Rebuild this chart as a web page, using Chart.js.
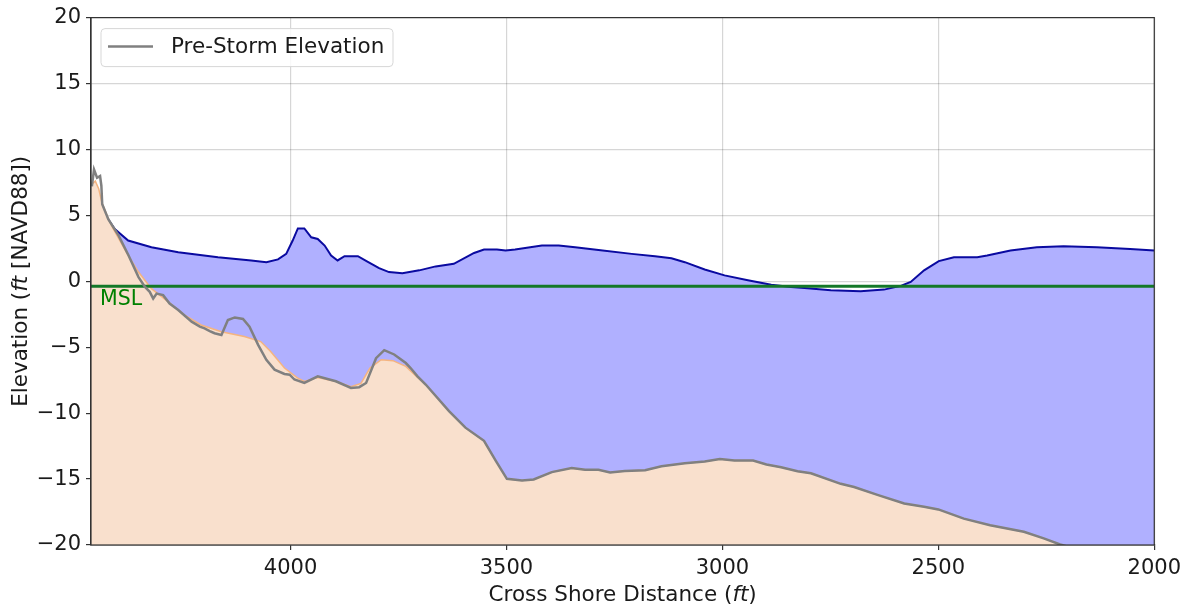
<!DOCTYPE html>
<html>
<head>
<meta charset="utf-8">
<script src="https://cdn.jsdelivr.net/npm/chart.js@4"></script>
<style>
  html, body { margin: 0; padding: 0; background: #ffffff; }
  #wrap { width: 1187px; height: 608px; }
</style>
</head>
<body>
<div id="wrap"><canvas id="c" width="1187" height="608"></canvas></div>
<script>
// ---------- data ----------
const xTicks = [4000, 3500, 3000, 2500, 2000];
const yTicks = [-20, -15, -10, -5, 0, 5, 10, 15, 20];
const xMin = 2000, xMax = 4462;
const yMin = -20, yMax = 20;

const preStormX = [4460, 4455, 4448, 4441, 4438, 4436, 4422, 4398, 4375, 4352, 4337, 4326, 4318, 4310, 4295, 4280, 4260, 4229, 4210, 4199, 4187, 4176, 4160, 4145, 4129, 4110, 4095, 4075, 4056, 4037, 4014, 4002, 3991, 3968, 3937, 3895, 3860, 3841, 3825, 3802, 3783, 3760, 3733, 3722, 3706, 3687, 3633, 3595, 3552, 3525, 3499, 3464, 3437, 3395, 3349, 3318, 3287, 3260, 3226, 3179, 3141, 3087, 3041, 3006, 2972, 2929, 2898, 2864, 2826, 2795, 2726, 2695, 2641, 2579, 2533, 2500, 2441, 2380, 2302, 2256, 2218, 2150, 2000];
const preStormElev = [7.2, 8.48, 7.85, 7.98, 7.25, 5.84, 4.71, 3.46, 1.96, 0.32, -0.43, -0.8, -1.31, -0.93, -1.05, -1.69, -2.18, -3.06, -3.44, -3.57, -3.77, -3.94, -4.07, -2.94, -2.74, -2.86, -3.44, -4.82, -5.95, -6.7, -7.03, -7.08, -7.45, -7.71, -7.21, -7.58, -8.09, -8.03, -7.71, -5.83, -5.22, -5.55, -6.2, -6.58, -7.21, -7.83, -9.84, -11.1, -12.1, -13.6, -14.98, -15.1, -15.03, -14.47, -14.17, -14.3, -14.3, -14.5, -14.39, -14.33, -14.03, -13.8, -13.66, -13.48, -13.6, -13.6, -13.9, -14.1, -14.4, -14.56, -15.36, -15.6, -16.2, -16.85, -17.1, -17.3, -18.0, -18.5, -19.0, -19.5, -19.96, -20.6, -21.8];

const postStormX = [4462, 4452, 4444, 4437, 4420, 4410, 4380, 4352, 4322, 4283, 4245, 4207, 4160, 4107, 4069, 4046, 4014, 3984, 3968, 3937, 3895, 3860, 3837, 3816, 3790, 3763, 3733, 3706, 3687, 3633, 3595, 3552, 3525, 3499, 3464, 3437, 3395, 3349, 3318, 3287, 3260, 3226, 3179, 3141, 3087, 3041, 3006, 2972, 2929, 2898, 2864, 2826, 2795, 2726, 2695, 2641, 2579, 2533, 2500, 2441, 2380, 2302, 2256, 2218, 2150, 2000];
const postStormElev = [7.3, 7.6, 7.0, 6.0, 4.6, 3.96, 2.2, 0.7, -0.56, -1.56, -2.56, -3.31, -3.82, -4.19, -4.57, -5.32, -6.58, -7.33, -7.6, -7.3, -7.6, -8.0, -7.75, -6.58, -5.95, -6.02, -6.45, -7.3, -7.83, -9.84, -11.1, -12.1, -13.6, -14.98, -15.1, -15.03, -14.47, -14.17, -14.3, -14.3, -14.5, -14.39, -14.33, -14.03, -13.8, -13.66, -13.48, -13.6, -13.6, -13.9, -14.1, -14.4, -14.56, -15.36, -15.6, -16.2, -16.85, -17.1, -17.3, -18.0, -18.5, -19.0, -19.5, -19.96, -20.6, -21.8];

const waterX = [4437, 4430, 4407, 4376, 4322, 4260, 4168, 4091, 4056, 4029, 4010, 3995, 3983, 3968, 3952, 3937, 3921, 3906, 3891, 3875, 3844, 3822, 3795, 3772, 3741, 3702, 3664, 3622, 3575, 3552, 3522, 3502, 3480, 3418, 3379, 3341, 3287, 3210, 3156, 3118, 3087, 3041, 2995, 2941, 2887, 2841, 2810, 2749, 2680, 2626, 2587, 2564, 2533, 2499, 2464, 2410, 2387, 2333, 2272, 2210, 2133, 2056, 2000];
const waterElev = [5.75, 5.09, 3.96, 3.09, 2.58, 2.2, 1.83, 1.58, 1.45, 1.66, 2.08, 3.09, 4.01, 4.01, 3.34, 3.21, 2.71, 1.96, 1.58, 1.9, 1.9, 1.5, 1.0, 0.7, 0.62, 0.83, 1.13, 1.33, 2.15, 2.41, 2.41, 2.33, 2.41, 2.71, 2.71, 2.58, 2.38, 2.08, 1.9, 1.75, 1.45, 0.9, 0.45, 0.08, -0.26, -0.43, -0.5, -0.68, -0.75, -0.63, -0.35, -0.05, 0.83, 1.53, 1.83, 1.83, 1.96, 2.33, 2.58, 2.66, 2.58, 2.45, 2.33];

const mslElev = -0.37;
const mslLabel = 'MSL';
const legendLabel = 'Pre-Storm Elevation';
const xTitleParts = [['Cross Shore Distance (', false], ['ft', true], [')', false]];
const yTitleParts = [['Elevation (', false], ['ft', true], [' [NAVD88])', false]];

// ---------- helpers ----------
const pts = (xs, ys) => xs.map((x, i) => ({ x: x, y: ys[i] }));
const FONT = '"DejaVu Sans", "Liberation Sans", sans-serif';
const fmtTick = v => (v < 0 ? '\u2212' + Math.abs(v) : String(v));

function drawParts(ctx, parts, size) {
  let total = 0;
  const widths = parts.map(([t, it]) => {
    ctx.font = (it ? 'italic ' : '') + size + 'px ' + FONT;
    const w = ctx.measureText(t).width; total += w; return w;
  });
  let x = -total / 2;
  parts.forEach(([t, it], i) => {
    ctx.font = (it ? 'italic ' : '') + size + 'px ' + FONT;
    ctx.fillText(t, x, 0);
    x += widths[i];
  });
}

const decor = {
  id: 'decor',
  afterDraw(chart) {
    const ctx = chart.ctx;
    const a = chart.chartArea;
    const ys = chart.scales.y;
    ctx.save();
    // frame
    ctx.strokeStyle = '#333333';
    ctx.lineWidth = 1.2;
    ctx.strokeRect(a.left, a.top, a.right - a.left, a.bottom - a.top);

    // MSL label
    ctx.fillStyle = 'rgb(0,128,0)';
    ctx.font = '20.5px ' + FONT;
    ctx.textAlign = 'left';
    ctx.textBaseline = 'middle';
    ctx.fillText(mslLabel, a.left + 9, ys.getPixelForValue(mslElev) + 13);

    // legend
    const lx = a.left + 10, ly = a.top + 11, lw = 292, lh = 38, r = 4;
    ctx.beginPath();
    ctx.moveTo(lx + r, ly);
    ctx.arcTo(lx + lw, ly, lx + lw, ly + lh, r);
    ctx.arcTo(lx + lw, ly + lh, lx, ly + lh, r);
    ctx.arcTo(lx, ly + lh, lx, ly, r);
    ctx.arcTo(lx, ly, lx + lw, ly, r);
    ctx.closePath();
    ctx.fillStyle = 'rgba(255,255,255,0.85)';
    ctx.fill();
    ctx.strokeStyle = 'rgb(215,215,215)';
    ctx.lineWidth = 1;
    ctx.stroke();
    ctx.strokeStyle = 'rgb(128,128,128)';
    ctx.lineWidth = 2.5;
    ctx.beginPath();
    ctx.moveTo(lx + 7, ly + 18);
    ctx.lineTo(lx + 52, ly + 18);
    ctx.stroke();
    ctx.fillStyle = '#1a1a1a';
    ctx.font = '21.5px ' + FONT;
    ctx.textBaseline = 'middle';
    ctx.fillText(legendLabel, lx + 70, ly + 19);

    // axis titles
    ctx.fillStyle = '#1a1a1a';
    ctx.textAlign = 'left';
    ctx.textBaseline = 'middle';
    ctx.save();
    ctx.translate((a.left + a.right) / 2, 595);
    drawParts(ctx, xTitleParts, 21.5);
    ctx.restore();
    ctx.save();
    ctx.translate(21, (a.top + a.bottom) / 2);
    ctx.rotate(-Math.PI / 2);
    drawParts(ctx, yTitleParts, 21.5);
    ctx.restore();
    ctx.restore();
  }
};

new Chart(document.getElementById('c'), {
  type: 'line',
  data: {
    datasets: [
      {
        label: legendLabel,
        data: pts(preStormX, preStormElev),
        borderColor: 'rgb(128,128,128)',
        borderWidth: 2.5,
        pointRadius: 0,
        fill: false,
        tension: 0,
        order: 0,
        clip: 0
      },
      {
        label: 'MSL',
        data: [{ x: xMax, y: mslElev }, { x: xMin, y: mslElev }],
        borderColor: 'rgb(20,120,40)',
        borderWidth: 3,
        pointRadius: 0,
        fill: false,
        order: 1,
        clip: 0
      },
      {
        label: 'Post-Storm',
        data: pts(postStormX, postStormElev),
        borderColor: 'rgb(244,180,128)',
        backgroundColor: 'rgb(249,224,205)',
        borderWidth: 1.5,
        pointRadius: 0,
        fill: 'start',
        tension: 0,
        order: 2,
        clip: 0
      },
      {
        label: 'Water',
        data: pts(waterX, waterElev),
        borderColor: 'rgb(10,10,160)',
        backgroundColor: 'rgb(176,176,255)',
        borderWidth: 2,
        pointRadius: 0,
        fill: 'start',
        tension: 0,
        order: 3,
        clip: 0
      }
    ]
  },
  options: {
    responsive: false,
    animation: false,
    layout: { padding: { left: 0, top: 14, right: 30, bottom: 0 } },
    plugins: {
      legend: { display: false },
      tooltip: { enabled: false }
    },
    scales: {
      x: {
        type: 'linear',
        reverse: true,
        min: xMin,
        max: xMax,
        z: 1,
        afterBuildTicks: s => { s.ticks = xTicks.map(v => ({ value: v })); },
        afterFit: s => { s.height = 63; },
        grid: { color: 'rgba(0,0,0,0.16)', lineWidth: 1.2, tickColor: '#333333', tickLength: 5 },
        border: { color: '#333333', width: 1.2 },
        ticks: { color: '#1a1a1a', font: { family: FONT, size: 21 }, padding: 6, maxRotation: 0,
                 callback: v => fmtTick(v) }
      },
      y: {
        type: 'linear',
        min: yMin,
        max: yMax,
        z: 1,
        afterBuildTicks: s => { s.ticks = yTicks.map(v => ({ value: v })); },
        afterFit: s => { s.width = 91; },
        grid: { color: 'rgba(0,0,0,0.16)', lineWidth: 1.2, tickColor: '#333333', tickLength: 5 },
        border: { color: '#333333', width: 1.2 },
        ticks: { color: '#1a1a1a', font: { family: FONT, size: 21 }, padding: 5,
                 callback: v => fmtTick(v) }
      }
    }
  },
  plugins: [decor]
});
</script>
</body>
</html>
